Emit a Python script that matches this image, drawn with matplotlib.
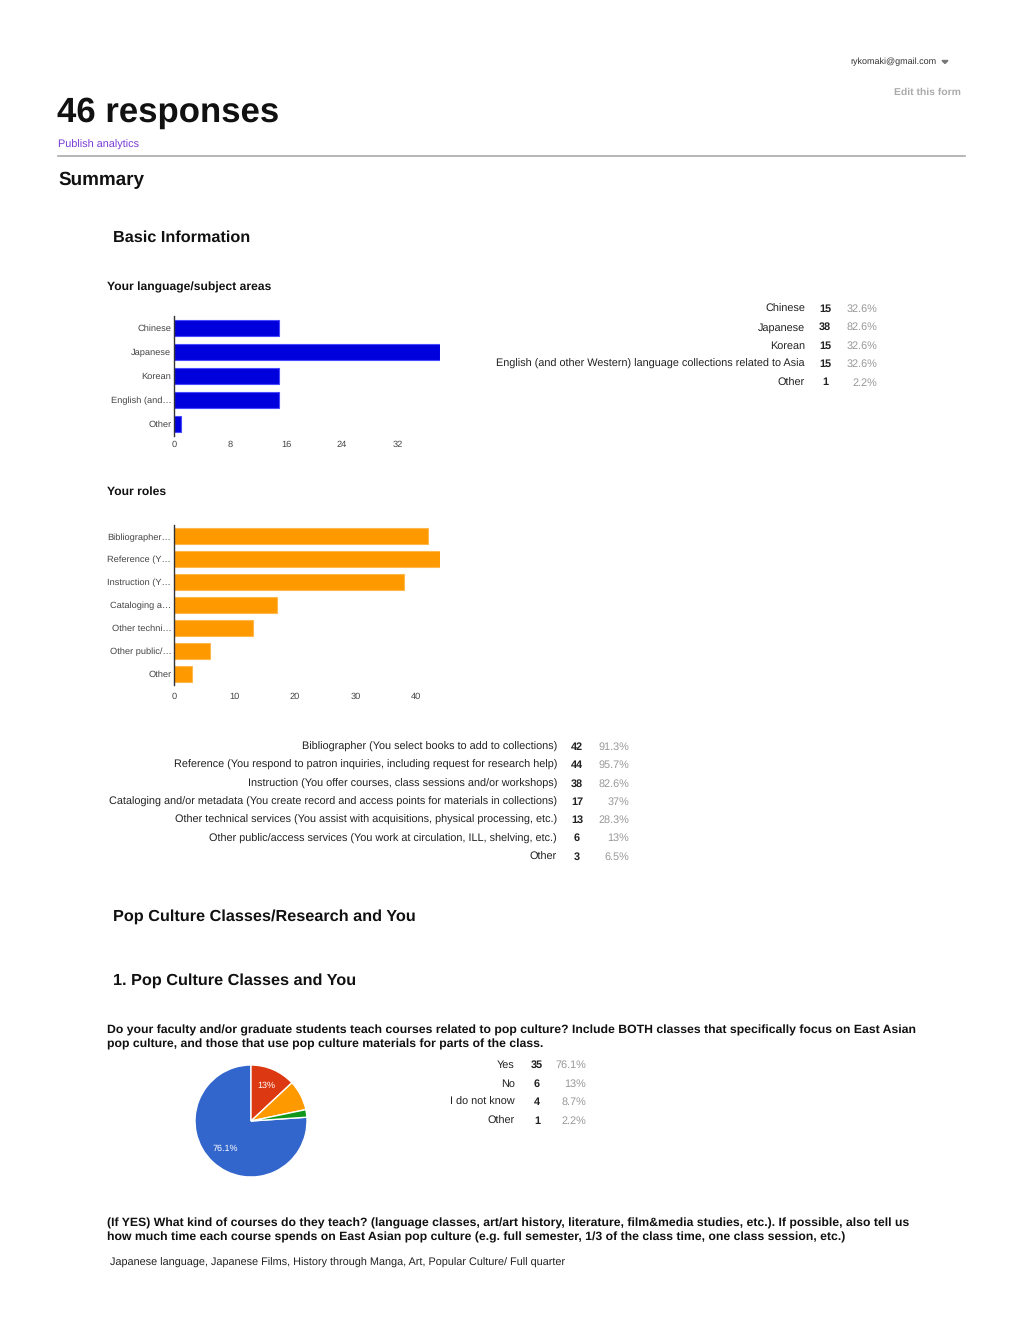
import numpy as np
import matplotlib
matplotlib.use("Agg")
import matplotlib.pyplot as plt

plt.rcParams['font.family'] = ['Liberation Sans', 'DejaVu Sans']
plt.rcParams['text.hinting'] = 'no_hinting'

W, H = 1020, 1320
TOTAL = 46

# data
lang_labels = ["Chinese", "Japanese", "Korean",
               "English (and other Western) language collections related to Asia", "Other"]
lang_short = ["Chinese", "Japanese", "Korean", "English (and\u2026", "Other"]
lang_counts = [15, 38, 15, 15, 1]
lang_ticks = [0, 8, 16, 24, 32]

role_labels = ["Bibliographer (You select books to add to collections)",
               "Reference (You respond to patron inquiries, including request for research help)",
               "Instruction (You offer courses, class sessions and/or workshops)",
               "Cataloging and/or metadata (You create record and access points for materials in collections)",
               "Other technical services (You assist with acquisitions, physical processing, etc.)",
               "Other public/access services (You work at circulation, ILL, shelving, etc.)",
               "Other"]
role_short = ["Bibliographer\u2026", "Reference (Y\u2026", "Instruction (Y\u2026", "Cataloging a\u2026",
              "Other techni\u2026", "Other public/\u2026", "Other"]
role_counts = [42, 44, 38, 17, 13, 6, 3]
role_ticks = [0, 10, 20, 30, 40]

pop_labels = ["Yes", "No", "I do not know", "Other"]
pop_counts = [35, 6, 4, 1]
pop_colors = ['#3366cc', '#dc3912', '#ff9900', '#109618']


def pct_str(c):
    return f"{round(c / TOTAL * 100, 1):g}%"


def px_axes(x0, y0, x1, y1):
    return fig.add_axes([x0 / W, 1 - y1 / H, (x1 - x0) / W, (y1 - y0) / H])


fig = plt.figure(figsize=(W / 100, H / 100), dpi=100)
bg = fig.add_axes([0, 0, 1, 1])
bg.set_xlim(0, W)
bg.set_ylim(H, 0)
bg.axis('off')

# header
bg.text(937, 62, "rykomaki@gmail.com", ha='right', va='center', fontsize=6.5, color='#333333')
bg.fill([942, 948, 945], [60.5, 60.5, 63.5], color='#777777')
bg.text(961, 92, "Edit this form", ha='right', va='center', fontsize=7.5,
        color='#aaaaaa', fontweight='bold')
bg.text(57, 113, "46 responses", ha='left', va='center', fontsize=25, fontweight='bold', color='#111111')
bg.text(58, 145, "Publish analytics", ha='left', va='center', fontsize=7.8, color='#7a3bd6')
bg.plot([58, 965], [156, 156], color='#aaaaaa', lw=1.2)
bg.text(58, 180, "Summary", ha='left', va='center', fontsize=13.6, fontweight='bold', color='#111111')

bg.text(113, 238, "Basic Information", ha='left', va='center', fontsize=11.7, fontweight='bold', color='#111111')
bg.text(107, 287, "Your language/subject areas", ha='left', va='center', fontsize=8.75,
        fontweight='bold', color='#111111')
bg.text(107, 492, "Your roles", ha='left', va='center', fontsize=8.75, fontweight='bold', color='#111111')
bg.text(113, 917, "Pop Culture Classes/Research and You", ha='left', va='center', fontsize=11.7,
        fontweight='bold', color='#111111')
bg.text(113, 981, "1. Pop Culture Classes and You", ha='left', va='center', fontsize=11.7,
        fontweight='bold', color='#111111')

narrow = ['Liberation Sans Narrow', 'Liberation Sans', 'DejaVu Sans']
q1 = ["Do your faculty and/or graduate students teach courses related to pop culture? Include BOTH classes that specifically focus on East Asian",
      "pop culture, and those that use pop culture materials for parts of the class."]
q2 = ["(If YES) What kind of courses do they teach? (language classes, art/art history, literature, film&media studies, etc.). If possible, also tell us",
      "how much time each course spends on East Asian pop culture (e.g. full semester, 1/3 of the class time, one class session, etc.)"]
for i, line in enumerate(q1):
    bg.text(107, 1030 + 14 * i, line, ha='left', va='center', fontsize=8.8, fontweight='bold',
            family=narrow, color='#111111')
for i, line in enumerate(q2):
    bg.text(107, 1223 + 14 * i, line, ha='left', va='center', fontsize=8.8, fontweight='bold',
            family=narrow, color='#111111')
bg.text(110, 1263, "Japanese language, Japanese Films, History through Manga, Art, Popular Culture/ Full quarter",
        ha='left', va='center', fontsize=7.8, family=narrow, color='#222222')


def table(labels, counts, x_lab, x_cnt, x_pct, y0, dy):
    for i, (lab, c) in enumerate(zip(labels, counts)):
        y = y0 + dy * i
        bg.text(x_lab, y, lab, ha='right', va='center', fontsize=7.85, color='#222222')
        bg.text(x_cnt, y, str(c), ha='center', va='center', fontsize=7.85, fontweight='bold', color='#222222')
        bg.text(x_pct, y, pct_str(c), ha='right', va='center', fontsize=7.85, color='#999999')


table(lang_labels, lang_counts, 805, 825, 877, 309, 18.4)
table(role_labels, role_counts, 557, 577, 629, 747, 18.3)
table(pop_labels, pop_counts, 515, 537, 586, 1065, 18.6)


def bar_chart(ax, labels, counts, ticks, xmax, color, edge, height):
    y = np.arange(len(labels))
    ax.barh(y, counts, height=height, color=color, edgecolor=edge, linewidth=0.8)
    ax.set_xlim(0, xmax)
    ax.set_ylim(len(labels) - 0.5, -0.5)
    ax.set_yticks(y)
    ax.set_yticklabels(labels)
    ax.set_xticks(ticks)
    for s in ['top', 'right', 'bottom']:
        ax.spines[s].set_visible(False)
    ax.spines['left'].set_color('#333333')
    ax.spines['left'].set_linewidth(1.0)
    ax.tick_params(length=0, labelsize=6.7, colors='#444444')
    ax.tick_params(axis='y', pad=2)
    ax.set_facecolor('none')


ax1 = px_axes(174, 316, 440, 436)
bar_chart(ax1, lang_short, lang_counts, lang_ticks, max(lang_counts), '#0000dd', '#4a4aff', 0.68)
ax1.tick_params(axis='x', pad=3)

ax2 = px_axes(174, 525, 440, 685)
bar_chart(ax2, role_short, role_counts, role_ticks, max(role_counts), '#ff9900', '#ffb84d', 0.7)
ax2.tick_params(axis='x', pad=5)

# pie
ax3 = px_axes(195, 1065, 307, 1177)
yes_frac = pop_counts[0] / sum(pop_counts)


def autopct(p):
    return f"{round(p, 1):g}%" if p > 10 else ''


wedges, texts, autotexts = ax3.pie(pop_counts, colors=pop_colors, startangle=90 + 360 * yes_frac,
                                   counterclock=False, autopct=autopct, pctdistance=0.68,
                                   wedgeprops=dict(edgecolor='white', linewidth=1.0),
                                   textprops=dict(color='white', fontsize=6.5))
ax3.set_xlim(-1, 1)
ax3.set_ylim(-1, 1)
for w in wedges:
    w.set_clip_on(False)

fig.savefig("out.png", dpi=100, facecolor='white')
